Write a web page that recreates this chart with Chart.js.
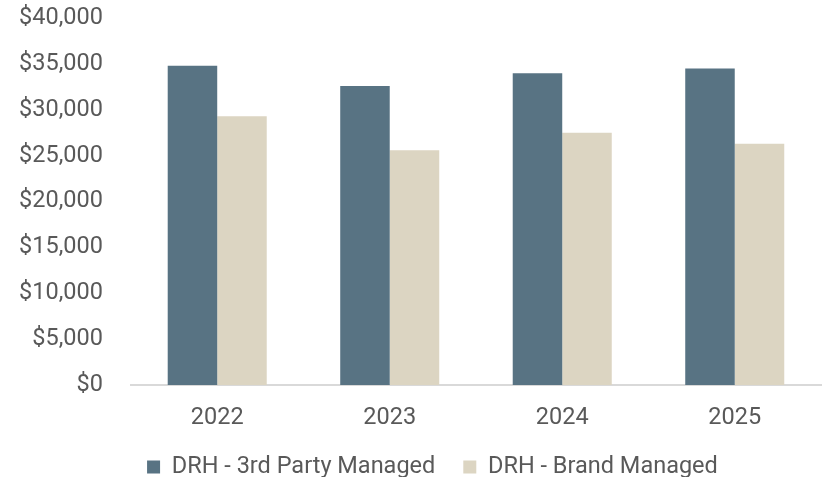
<!DOCTYPE html>
<html>
<head>
<meta charset="utf-8">
<script src="https://cdn.jsdelivr.net/npm/chart.js@4/dist/chart.umd.min.js"></script>
<style>
  html, body { margin: 0; padding: 0; background: #fff; }
  #wrap { width: 827px; height: 477px; }
</style>
</head>
<body>
<div id="wrap"><canvas id="bargraph"></canvas></div>
<script>
var years = ['2022', '2023', '2024', '2025'];
var thirdParty = [34800, 32600, 34000, 34500];
var brandManaged = [29300, 25600, 27500, 26300];
var seriesNames = ['DRH - 3rd Party Managed', 'DRH - Brand Managed'];

Chart.defaults.font.family = 'Roboto';
Chart.defaults.color = '#595959';

// nudge the legend row to the right, as in the original
var legendShift = {
    id: 'legendShift',
    afterLayout: function(chart) {
        chart.legend.left += 14.4;
        chart.legend.right += 14.4;
    }
};

var barChartData = {
    labels: years,
    datasets: [{
        label: seriesNames[0],
        backgroundColor: '#587383',
        data: thirdParty
    }, {
        label: seriesNames[1],
        backgroundColor: '#dcd5c2',
        data: brandManaged
    }]
};

var ctx = document.getElementById('bargraph').getContext('2d');
window.myBar = new Chart(ctx, {
    type: 'bar',
    data: barChartData,
    plugins: [legendShift],
    options: {
        responsive: true,
        maintainAspectRatio: false,
        animation: false,
        layout: { padding: { left: 15.1, right: 6, top: 0, bottom: 0 } },
        datasets: { bar: { barPercentage: 1, categoryPercentage: 0.574 } },
        scales: {
            x: {
                grid: { display: false, drawTicks: false },
                border: { color: '#d9d9d9', width: 2 },
                afterFit: function(scale) { scale.height = 42.2; },
                ticks: { font: { size: 23.5 }, padding: 19 }
            },
            y: {
                min: 0,
                max: 40000,
                grid: { display: false, drawTicks: true, tickLength: 24 },
                border: { display: false },
                ticks: {
                    stepSize: 5000,
                    padding: 4,
                    font: { size: 23.5 },
                    callback: function(v) { return '$' + v.toLocaleString('en-US'); }
                }
            }
        },
        plugins: {
            tooltip: { enabled: false },
            legend: {
                position: 'bottom',
                maxHeight: 49.8,
                labels: {
                    boxWidth: 13,
                    boxHeight: 13,
                    padding: 28,
                    font: { size: 23.5 }
                }
            }
        }
    }
});
</script>
</body>
</html>
